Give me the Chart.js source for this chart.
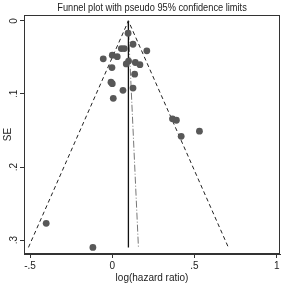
<!DOCTYPE html>
<html>
<head>
<meta charset="utf-8">
<script src="https://cdn.jsdelivr.net/npm/chart.js@4"></script>
<style>
  html, body { margin: 0; padding: 0; background: #fff; }
  #wrap { width: 285px; height: 285px; }
</style>
</head>
<body>
<div id="wrap"><canvas id="chart-funnel" width="285" height="285"></canvas></div>
<script>
// study estimates
var logHR = [0.096, 0.126, 0.055, 0.073, 0.210, -0.055, 0.000, 0.030, 0.099, 0.085,
             0.140, 0.168, -0.002, 0.136, -0.008, 0.000, 0.065, 0.126, 0.006, 0.366,
             0.390, 0.419, 0.530, -0.402, -0.118];
var seVals = [0.017, 0.032, 0.038, 0.038, 0.041, 0.052, 0.047, 0.049, 0.055, 0.059,
              0.057, 0.060, 0.064, 0.073, 0.084, 0.086, 0.095, 0.092, 0.106, 0.134,
              0.136, 0.158, 0.151, 0.277, 0.310];

// pseudo 95% limits and pooled estimate
var funnelX = [-0.51, 0.098, 0.706];
var funnelY = [0.31, 0, 0.31];
var pooledX = [0.098, 0.098];
var pooledY = [0, 0.31];
var eggerX = [0.096, 0.159];
var eggerY = [0, 0.31];

var xTicks = [-0.5, 0, 0.5, 1];
var yTicks = [0, 0.1, 0.2, 0.3];

var titleText = "Funnel plot with pseudo 95% confidence limits";
var fontFam = "'Liberation Sans Narrow', 'Liberation Sans', Arial, sans-serif";

function pairs(xs, ys){
  var out = [];
  for (var i = 0; i < xs.length; i++) out.push({x: xs[i], y: ys[i]});
  return out;
}

function stataLabel(v){
  if (v === 0) return "0";
  var s = String(Math.abs(Math.round(v * 100) / 100)).replace(/^0/, "");
  return (v < 0 ? "-" : "") + s;
}

// box round the plot region and title over it (squeezed like the stata font)
var boxPlugin = {
  id: 'box',
  afterDraw: function(chart){
    var a = chart.chartArea;
    var c = chart.ctx;
    c.save();
    c.strokeStyle = '#333';
    c.lineWidth = 1;
    c.strokeRect(a.left + 0.5, a.top + 0.5, a.right - a.left - 1, a.bottom - a.top - 1);
    c.fillStyle = '#222';
    c.font = "11px " + fontFam;
    c.textAlign = 'center';
    c.textBaseline = 'middle';
    var cx = (a.left + a.right) / 2;
    c.translate(cx, 8);
    c.scale(0.84, 1);
    c.fillText(titleText, 0, 0);
    c.restore();
  }
};

var ctx = document.getElementById("chart-funnel").getContext("2d");
new Chart(ctx, {
  type: "scatter",
  data: {
    datasets: [{
      label: "studies",
      data: pairs(logHR, seVals),
      pointRadius: 3.4,
      pointBackgroundColor: "#585858",
      pointBorderWidth: 0,
      showLine: false
    }, {
      label: "pseudo 95% CI",
      data: pairs(funnelX, funnelY),
      showLine: true,
      pointRadius: 0,
      borderColor: "#222",
      borderWidth: 1,
      borderDash: [4, 3],
      fill: false
    }, {
      label: "pooled",
      data: pairs(pooledX, pooledY),
      showLine: true,
      pointRadius: 0,
      borderColor: "#111",
      borderWidth: 1.3,
      fill: false
    }, {
      label: "egger",
      data: pairs(eggerX, eggerY),
      showLine: true,
      pointRadius: 0,
      borderColor: "#777",
      borderWidth: 1,
      borderDash: [7, 2, 1, 2],
      fill: false
    }]
  },
  options: {
    responsive: false,
    animation: false,
    layout: {
      padding: { top: 15, right: 5, left: 2, bottom: 0 }
    },
    plugins: {
      legend: { display: false },
      tooltip: { enabled: false },
      title: { display: false }
    },
    scales: {
      x: {
        type: "linear",
        min: -0.537,
        max: 1.02,
        afterBuildTicks: function(scale){
          scale.ticks = xTicks.map(function(v){ return {value: v}; });
        },
        afterFit: function(scale){
          scale.height = 31;
        },
        grid: {
          display: true,
          drawOnChartArea: false,
          drawTicks: true,
          tickLength: 4,
          color: '#333'
        },
        border: { display: true, color: '#333' },
        ticks: {
          color: '#222',
          padding: 2,
          maxRotation: 0,
          font: { size: 10, family: fontFam },
          callback: function(v){ return stataLabel(v); }
        },
        title: {
          display: true,
          text: "log(hazard ratio)",
          color: '#222',
          padding: { top: 0, bottom: 1 },
          font: { size: 10, family: fontFam }
        }
      },
      y: {
        type: "linear",
        reverse: true,
        min: -0.008,
        max: 0.319,
        afterBuildTicks: function(scale){
          scale.ticks = yTicks.map(function(v){ return {value: v}; });
        },
        afterFit: function(scale){
          scale.width = 22;
        },
        grid: {
          display: true,
          drawOnChartArea: false,
          drawTicks: true,
          tickLength: 4,
          color: '#333'
        },
        border: { display: true, color: '#333' },
        ticks: {
          color: '#222',
          padding: 2,
          minRotation: 90,
          maxRotation: 90,
          crossAlign: 'center',
          font: { size: 10, family: fontFam },
          callback: function(v){ return stataLabel(v); }
        },
        title: {
          display: true,
          text: "SE",
          color: '#222',
          padding: { top: 0, bottom: 0 },
          font: { size: 10, family: fontFam }
        }
      }
    }
  },
  plugins: [boxPlugin]
});
</script>
</body>
</html>
